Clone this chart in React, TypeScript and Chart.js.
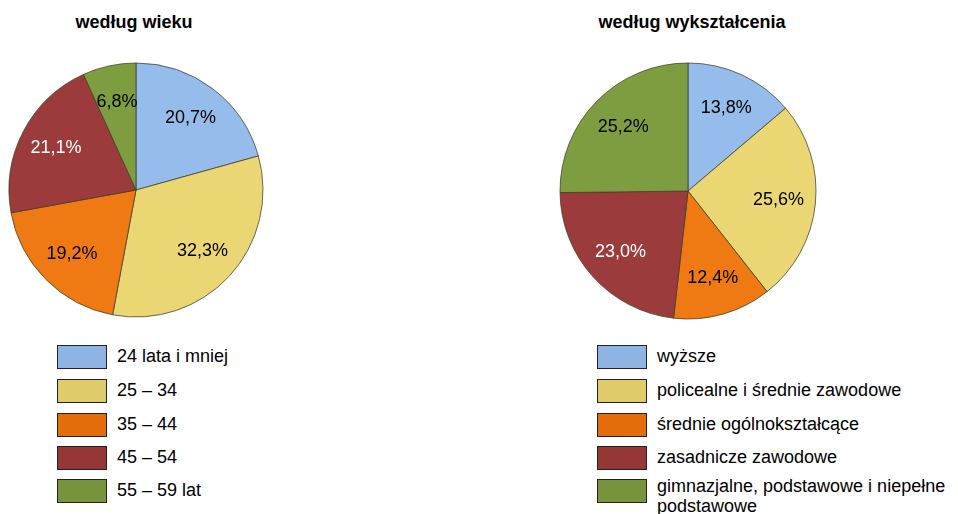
import React, { useEffect, useRef } from "react";
import { Chart, registerables } from "chart.js";

Chart.register(...registerables);

const ageTitle = "według wieku";
const ageLabels = ["24 lata i mniej", "25 – 34", "35 – 44", "45 – 54", "55 – 59 lat"];
const ageValues = [20.7, 32.3, 19.2, 21.1, 6.8];

const eduTitle = "według wykształcenia";
const eduLabels = [
  "wyższe",
  "policealne i średnie zawodowe",
  "średnie ogólnokształcące",
  "zasadnicze zawodowe",
  "gimnazjalne, podstawowe i niepełne podstawowe",
];
const eduValues = [13.8, 25.6, 12.4, 23.0, 25.2];

const sliceColors = ["#95BCEB", "#EAD773", "#EF7912", "#9C3B3B", "#7E9D41"];
const legendColors = ["#8DB4E3", "#DFCB6A", "#E46C0A", "#953735", "#77933C"];
const labelColors = ["#000000", "#000000", "#000000", "#FFFFFF", "#000000"];

const FONT = "Arial, 'Liberation Sans', sans-serif";

const fmt = (v: number) => v.toFixed(1).replace(".", ",") + "%";

const labelPlugin = {
  id: "sliceLabels",
  afterDatasetsDraw(chart: any) {
    const ctx = chart.ctx;
    const meta = chart.getDatasetMeta(0);
    const data = chart.data.datasets[0].data as number[];
    ctx.save();
    ctx.font = `18px ${FONT}`;
    ctx.textAlign = "center";
    ctx.textBaseline = "middle";
    meta.data.forEach((arc: any, i: number) => {
      const p = arc.getProps(["x", "y", "startAngle", "endAngle", "outerRadius"], true);
      const mid = (p.startAngle + p.endAngle) / 2;
      const r = p.outerRadius * 0.71;
      ctx.fillStyle = labelColors[i];
      ctx.fillText(fmt(data[i]), p.x + Math.cos(mid) * r, p.y + Math.sin(mid) * r);
    });
    ctx.restore();
  },
};

function Pie(props: { values: number[]; labels: string[]; left: number; top: number; radius: number }) {
  const ref = useRef<HTMLCanvasElement | null>(null);
  useEffect(() => {
    if (!ref.current) return;
    const chart = new Chart(ref.current, {
      type: "pie",
      data: {
        labels: props.labels,
        datasets: [
          {
            data: props.values,
            backgroundColor: sliceColors,
            borderColor: "rgba(60,60,40,0.75)",
            borderWidth: 1,
            radius: props.radius,
          } as any,
        ],
      },
      options: {
        responsive: false,
        animation: false,
        plugins: { legend: { display: false }, tooltip: { enabled: false }, title: { display: false } },
        layout: { padding: 0 },
      },
      plugins: [labelPlugin],
    });
    return () => chart.destroy();
  }, []);
  return (
    <canvas
      ref={ref}
      width={272}
      height={280}
      style={{ position: "absolute", left: props.left, top: props.top, width: 272, height: 280 }}
    />
  );
}

function Legend(props: { labels: string[]; left: number; top: number; width: number }) {
  const rows = [0, 34, 68, 101, 134];
  return (
    <>
      {props.labels.map((l, i) => {
        const wraps = l.length > 35;
        return (
          <React.Fragment key={i}>
            <div
              style={{
                position: "absolute",
                left: props.left,
                top: props.top + rows[i],
                width: 48,
                height: 22,
                background: legendColors[i],
                border: "1px solid #222",
              }}
            />
            <div
              style={{
                position: "absolute",
                left: props.left + 60,
                top: props.top + rows[i] + (wraps ? -3 : 1),
                width: props.width,
                fontFamily: FONT,
                fontSize: 18,
                lineHeight: wraps ? "20px" : "21px",
                color: "#000",
              }}
            >
              {l}
            </div>
          </React.Fragment>
        );
      })}
    </>
  );
}

export default function App() {
  return (
    <div
      style={{
        position: "absolute",
        left: 0,
        top: 0,
        width: 958,
        height: 514,
        overflow: "hidden",
        background: "#fff",
      }}
    >
      <div
        style={{
          position: "absolute",
          left: 0,
          width: 268,
          top: 11,
          textAlign: "center",
          fontFamily: FONT,
          fontWeight: "bold",
          fontSize: 18,
          lineHeight: "22px",
        }}
      >
        {ageTitle}
      </div>
      <div
        style={{
          position: "absolute",
          left: 552,
          width: 280,
          top: 11,
          textAlign: "center",
          fontFamily: FONT,
          fontWeight: "bold",
          fontSize: 18,
          lineHeight: "22px",
        }}
      >
        {eduTitle}
      </div>
      <Pie values={ageValues} labels={ageLabels} left={0} top={50} radius={127} />
      <Pie values={eduValues} labels={eduLabels} left={552} top={51} radius={128} />
      <Legend labels={ageLabels} left={57} top={345} width={200} />
      <Legend labels={eduLabels} left={597} top={345} width={300} />
    </div>
  );
}
